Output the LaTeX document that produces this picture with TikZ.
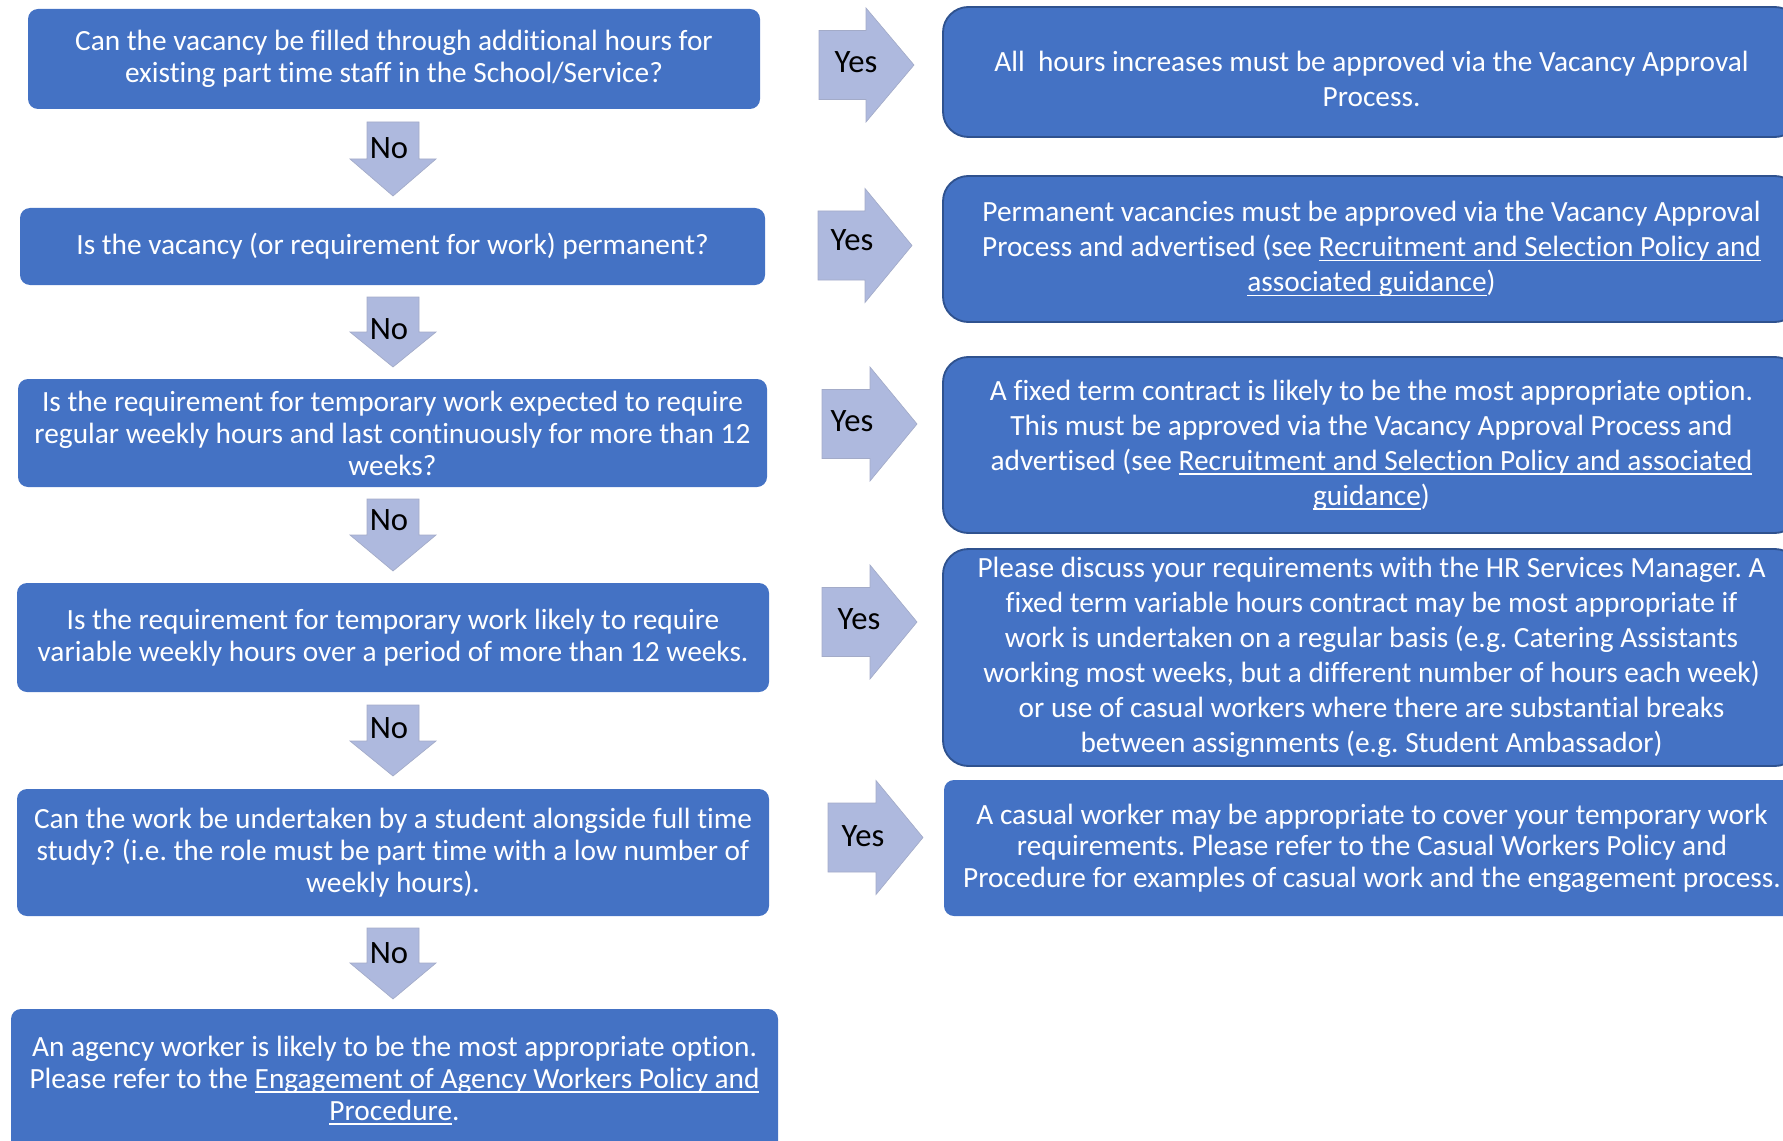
\documentclass[tikz,border=0pt]{standalone}
\usepackage{fontspec}
\setmainfont[Ligatures=NoCommon]{Carlito}
\frenchspacing
\definecolor{boxblue}{HTML}{4472C4}
\definecolor{boxedge}{HTML}{2F528F}
\definecolor{arrowfill}{HTML}{AEB9DE}
\definecolor{arrowedge}{HTML}{A3ABC8}
\newcommand\ulx[1]{\setbox0\hbox{#1}\rlap{\rule[-3.4pt]{\wd0}{1.2pt}}\box0}
\tikzset{
  qbox/.style={rectangle, rounded corners=7.5pt, fill=boxblue, text=white, align=center, inner sep=0pt,
    font=\fontsize{22}{24}\selectfont},
  abox/.style={rectangle, rounded corners=19pt, fill=boxblue, draw=boxedge, line width=1.4pt, text=white, align=center, inner sep=0pt,
    font=\fontsize{22}{26.25}\selectfont},
  atext/.style={text=white, align=center, inner sep=0pt, font=\fontsize{22}{26.25}\selectfont},
  cbox/.style={rectangle, rounded corners=7.5pt, fill=boxblue, text=white, align=center, inner sep=0pt,
    font=\fontsize{22}{23.6}\selectfont},
  blockarrow/.style={fill=arrowfill, draw=arrowedge, line width=0.5pt},
  arrowlabel/.style={text=black, inner sep=0pt, font=\fontsize{24.5}{28}\selectfont}
}
\begin{document}
\begin{tikzpicture}[x=0.75pt,y=-0.75pt]
\useasboundingbox (0,0) rectangle (1783,1141);
\clip (0,0) rectangle (1783,1141);

% question boxes (left)
\node[qbox, minimum width=732*0.75pt, minimum height=100*0.75pt] (q1) at (394,59)
  {Can the vacancy be filled through additional hours for\\existing part time staff in the School/Service?};
\node[qbox, minimum width=745*0.75pt, minimum height=77*0.75pt] (q2) at (392.5,246.5)
  {Is the vacancy (or requirement for work) permanent?};
\node[qbox, minimum width=749*0.75pt, minimum height=108*0.75pt] (q3) at (392.5,433)
  {Is the requirement for temporary work expected to require\\regular weekly hours and last continuously for more than 12\\weeks?};
\node[qbox, minimum width=752*0.75pt, minimum height=109*0.75pt] (q4) at (393,637.5)
  {Is the requirement for temporary work likely to require\\variable weekly hours over a period of more than 12 weeks.};
\node[qbox, minimum width=752*0.75pt, minimum height=127*0.75pt] (q5) at (393,852.5)
  {Can the work be undertaken by a student alongside full time\\study? (i.e. the role must be part time with a low number of\\weekly hours).};
\node[qbox, minimum width=767*0.75pt, minimum height=143*0.75pt] (q6) at (394.5,1080.5)
  {An agency worker is likely to be the most appropriate option.\\Please refer to the \ulx{Engagement of Agency Workers Policy and}\\\ulx{Procedure}.};

% answer boxes (right)
\node[abox, minimum width=857*0.75pt, minimum height=130*0.75pt] (a1) at (1371.5,72) {};
\node[atext] (a1text) at ([yshift=-5pt]a1.center)
  {All\ \ hours increases must be approved via the Vacancy Approval\\Process.};
\node[abox, minimum width=857*0.75pt, minimum height=146*0.75pt] (a2) at (1371.5,249)
  {Permanent vacancies must be approved via the Vacancy Approval\\Process and advertised (see \ulx{Recruitment and Selection Policy and}\\\ulx{associated guidance})};
\node[abox, minimum width=857*0.75pt, minimum height=176*0.75pt] (a3) at (1371.5,445)
  {A fixed term contract is likely to be the most appropriate option.\\This must be approved via the Vacancy Approval Process and\\advertised (see \ulx{Recruitment and Selection Policy and associated}\\\ulx{guidance})};
\node[abox, minimum width=857*0.75pt, minimum height=217*0.75pt] (a4) at (1371.5,657.5)
  {Please discuss your requirements with the HR Services Manager. A\\fixed term variable hours contract may be most appropriate if\\work is undertaken on a regular basis (e.g. Catering Assistants\\working most weeks, but a different number of hours each week)\\or use of casual workers where there are substantial breaks\\between assignments (e.g. Student Ambassador)};
\node[cbox, minimum width=856*0.75pt, minimum height=136*0.75pt] (a5) at (1372,848)
  {A casual worker may be appropriate to cover your temporary work\\requirements. Please refer to the Casual Workers Policy and\\Procedure for examples of casual work and the engagement process.};

% "No" block arrows (down)
\foreach \t/\b/\p/\ly/\n in {122/159/196/148/1, 297/332/367/329/2, 499/535/571/520/3, 705/741/776/728/4, 928/963/999/953/5}{
  \draw[blockarrow] (367,\t) -- (419,\t) -- (419,\b) -- (436,\b) -- (393,\p) -- (350,\b) -- (367,\b) -- cycle;
  \node[arrowlabel] (no\n) at (389,\ly) {No};
}

% "Yes" block arrows (right)
\foreach \xa/\xb/\xc/\cy/\lx/\ly/\n in {819/866/914/65/856/62/1, 818/865/912/245.5/852/240/2, 822/870/917/424/852/421/3, 822/870/917/622/859/619/4, 828/876/923/837.5/863/836/5}{
  \draw[blockarrow] (\xa,\cy-34.5) -- (\xb,\cy-34.5) -- (\xb,\cy-57) -- (\xc,\cy) -- (\xb,\cy+57) -- (\xb,\cy+34.5) -- (\xa,\cy+34.5) -- cycle;
  \node[arrowlabel] (yes\n) at (\lx,\ly) {Yes};
}
\end{tikzpicture}
\end{document}
